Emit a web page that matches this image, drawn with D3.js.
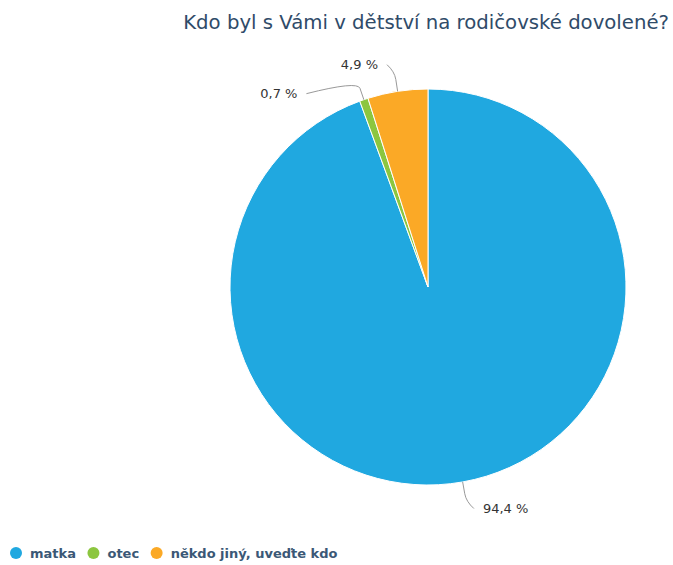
<!DOCTYPE html>
<html>
<head>
<meta charset="utf-8">
<script src="https://cdn.jsdelivr.net/npm/d3@7"></script>
<style>
  html, body { margin: 0; padding: 0; background: #fff; }
  svg { display: block; font-family: "DejaVu Sans", Verdana, sans-serif; }
</style>
</head>
<body>
<svg id="chart" width="673" height="565"></svg>
<script>
// ── Data ─────────────────────────────────────────
const categories = ['matka', 'otec', 'někdo jiný, uveďte kdo'];
const values     = [94.4, 0.7, 4.9];
const colors     = ['#20a8e0', '#8cc63f', '#fba926'];
const titleText  = 'Kdo byl s Vámi v dětství na rodičovské dovolené?';

const width = 673, height = 565;
const cx = 428, cy = 287, radius = 198;
const labelR = 225;     // radius where label anchors sit
const breakR = 218;     // radius where connector bends

const svg = d3.select('#chart');

// ── Title ────────────────────────────────────────
svg.append('text')
  .attr('x', 669)
  .attr('y', 29)
  .attr('text-anchor', 'end')
  .attr('font-size', 19.7)
  .attr('fill', '#2f4b69')
  .text(titleText);

// ── Pie ──────────────────────────────────────────
const data = categories.map((c, i) => ({ name: c, value: values[i], color: colors[i] }));
const pie  = d3.pie().sort(null).value(d => d.value);
const arcs = pie(data);
const arc  = d3.arc().innerRadius(0).outerRadius(radius);

const g = svg.append('g').attr('transform', `translate(${cx},${cy})`);

g.selectAll('path.slice')
  .data(arcs)
  .enter()
  .append('path')
  .attr('class', 'slice')
  .attr('d', arc)
  .attr('fill', d => d.data.color)
  .attr('stroke', '#fff')
  .attr('stroke-width', 1);

// ── Data labels ──────────────────────────────────
const fmt = v => String(v).replace('.', ',') + ' %';
const labels = arcs.map(d => {
  const a = (d.startAngle + d.endAngle) / 2;
  const s = Math.sin(a), c = Math.cos(a);
  return { d, s, c, left: s < 0, y: -labelR * c, pushed: false };
});

// keep labels on the same side from overlapping
['left', 'right'].forEach(side => {
  const list = labels.filter(l => (side === 'left') === l.left).sort((p, q) => p.y - q.y);
  for (let i = 1; i < list.length; i++) {
    if (list[i].y < list[i - 1].y + 29) {
      list[i].y = list[i - 1].y + 29;
      list[i].pushed = true;
    }
  }
});

labels.forEach(l => {
  const dir = l.left ? -1 : 1;
  const yy = Math.max(-labelR, Math.min(labelR, l.y));
  const endX = dir * (Math.sqrt(labelR * labelR - yy * yy) + 6.5);
  const ex = radius * l.s, ey = -radius * l.c;
  const bx = breakR * l.s, by = -breakR * l.c;
  // partial point before the bend, for a soft corner
  const px = ex + (bx - ex) * 0.6, py = ey + (by - ey) * 0.6;

  g.append('path')
    .attr('d', `M${ex},${ey} L${px},${py} Q${bx},${by} ${endX},${l.y}`)
    .attr('fill', 'none')
    .attr('stroke', '#999')
    .attr('stroke-width', 1);

  g.append('text')
    .attr('x', endX + dir * 9)
    .attr('y', l.y)
    .attr('dy', '0.35em')
    .attr('text-anchor', l.left ? 'end' : 'start')
    .attr('font-size', 13)
    .attr('fill', '#333')
    .text(fmt(l.d.data.value));
});

// ── Legend ───────────────────────────────────────
const legend = svg.append('g').attr('transform', 'translate(16,553)');
let lx = 0;
data.forEach(d => {
  const item = legend.append('g').attr('transform', `translate(${lx},0)`);
  item.append('circle').attr('r', 6).attr('fill', d.color);
  const t = item.append('text')
    .attr('x', 14)
    .attr('dy', '0.35em')
    .attr('font-size', 13)
    .attr('font-weight', 'bold')
    .attr('fill', '#3b5876')
    .text(d.name);
  lx += 14 + t.node().getComputedTextLength() + 17.5;
});
</script>
</body>
</html>
